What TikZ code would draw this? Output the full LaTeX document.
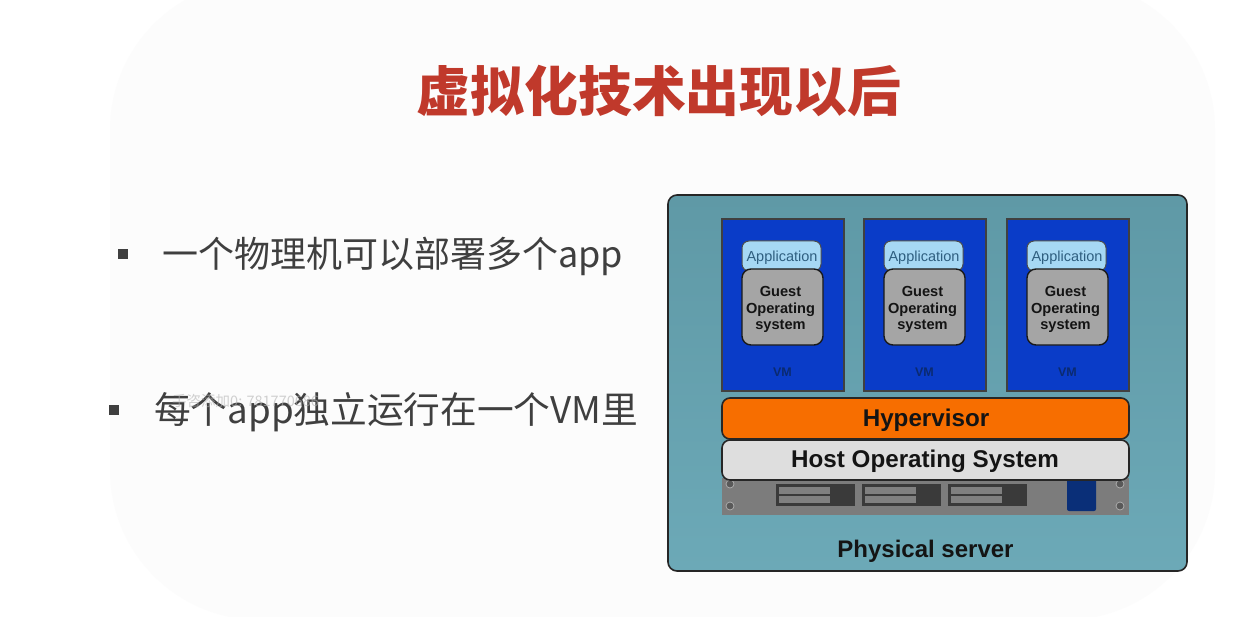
\documentclass[tikz,border=0pt]{standalone}
\usepackage{fontspec}
\setmainfont{Liberation Sans}
\newfontfamily\cjk{Noto Sans CJK SC}
\definecolor{titlered}{HTML}{C0392B}
\definecolor{bodygrey}{HTML}{3F3F3F}
\definecolor{tealtop}{HTML}{5F99A6}
\definecolor{tealbot}{HTML}{6CA9B7}
\definecolor{vmblue}{HTML}{0A3CC8}
\definecolor{appblue}{HTML}{A6D8F4}
\definecolor{apptext}{HTML}{2F5F80}
\definecolor{guest}{HTML}{A5A5A5}
\definecolor{hyp}{HTML}{F76E00}
\definecolor{hostos}{HTML}{DEDEDE}
\definecolor{rack}{HTML}{7C7C7C}
\definecolor{slot}{HTML}{3A3A3A}
\definecolor{bay}{HTML}{808080}
\definecolor{navy}{HTML}{0A2F78}
\definecolor{vmtext}{HTML}{0A2A70}
\tikzset{
  x=1pt,y=-1pt,
  frame/.style={draw=black!85,line width=1.6pt,rounded corners=#1},
  vmbox/.style={draw=black!75,line width=1.4pt,fill=vmblue},
  lab/.style={inner sep=0pt,text=black!92},
  body/.style={inner sep=0pt,anchor=west,text=bodygrey},
  bullet/.style={fill=bodygrey,inner sep=0pt,minimum size=10pt},
  screw/.style={circle,fill=black!65,draw=white!70!black,line width=.7pt,minimum size=8pt,inner sep=0pt}
}
\begin{document}
\begin{tikzpicture}
\useasboundingbox (0,0) rectangle (1233,617);
\fill[white] (0,0) rectangle (1233,617);
\fill[black!1,rounded corners=150pt] (110,-20) rectangle (1215,620);
\node[inner sep=0pt,text=titlered,font=\cjk\bfseries\fontsize{53.8}{53.8}\selectfont] (title) at (659,91) {虚拟化技术出现以后};
\node[bullet] (b1) at (123,254) {};
\node[body,font=\cjk\fontsize{36}{36}\selectfont] (t1) at (162,256) {一个物理机可以部署多个app};
\node[bullet] (b2) at (114,410) {};
\node[body,font=\cjk\fontsize{36.7}{36.7}\selectfont] (t2) at (154,412) {每个app独立运行在一个VM里};
\node[inner sep=0pt,anchor=west,text=black!30,opacity=.6,font=\cjk\fontsize{14.5}{14.5}\selectfont] (wm) at (172,401) {手咨添加0: 781770686};
% server
\draw[frame=9pt,top color=tealtop,bottom color=tealbot] (668,195) rectangle (1187,571);
\foreach \n/\x in {1/722,2/864,3/1007}{
  \draw[vmbox] (\x,219) rectangle +(122,172);
  \node[lab,text=vmtext,font=\bfseries\fontsize{12.5}{12.5}\selectfont] (vm\n) at (\x+60.5,372) {VM};
  \draw[draw=black!70,line width=1pt,fill=appblue,rounded corners=7pt] (\x+20,241) rectangle +(79,30);
  \node[inner sep=0pt,font=\fontsize{14.5}{14.5}\selectfont,text=apptext] (app\n) at (\x+60,258) {Application};
  \draw[draw=black!90,line width=1.4pt,fill=guest,rounded corners=9pt] (\x+20,269) rectangle +(81,76);
  \node[lab,align=center,font=\bfseries\fontsize{14.6}{16.3}\selectfont] (guest\n) at (\x+58.5,309.5) {Guest\\Operating\\system};
}
% rack
\fill[rack] (722,478) rectangle (1129,515);
\foreach \x in {776,862,948}{
  \fill[slot] (\x,484) rectangle +(79,22);
  \fill[bay] (\x+3,487) rectangle +(51,7);
  \fill[bay] (\x+3,496) rectangle +(51,7);
}
\fill[navy,rounded corners=2pt] (1067,478) rectangle (1096,511);
\foreach \n/\x/\y in {a/730/484,b/730/506,c/1120/484,d/1120/506}{
  \node[screw] (s\n) at (\x,\y) {};
}
\draw[frame=8pt,fill=hyp] (722,398) rectangle (1129,439);
\node[lab,font=\bfseries\fontsize{24.2}{24.2}\selectfont] (hyper) at (926,420) {Hypervisor};
\draw[frame=8pt,fill=hostos] (722,440) rectangle (1129,480);
\node[lab,font=\bfseries\fontsize{24.2}{24.2}\selectfont] (host) at (925,461) {Host Operating System};
\node[lab,font=\bfseries\fontsize{24}{24}\selectfont] (phys) at (925.5,551) {Physical server};
\end{tikzpicture}
\end{document}
